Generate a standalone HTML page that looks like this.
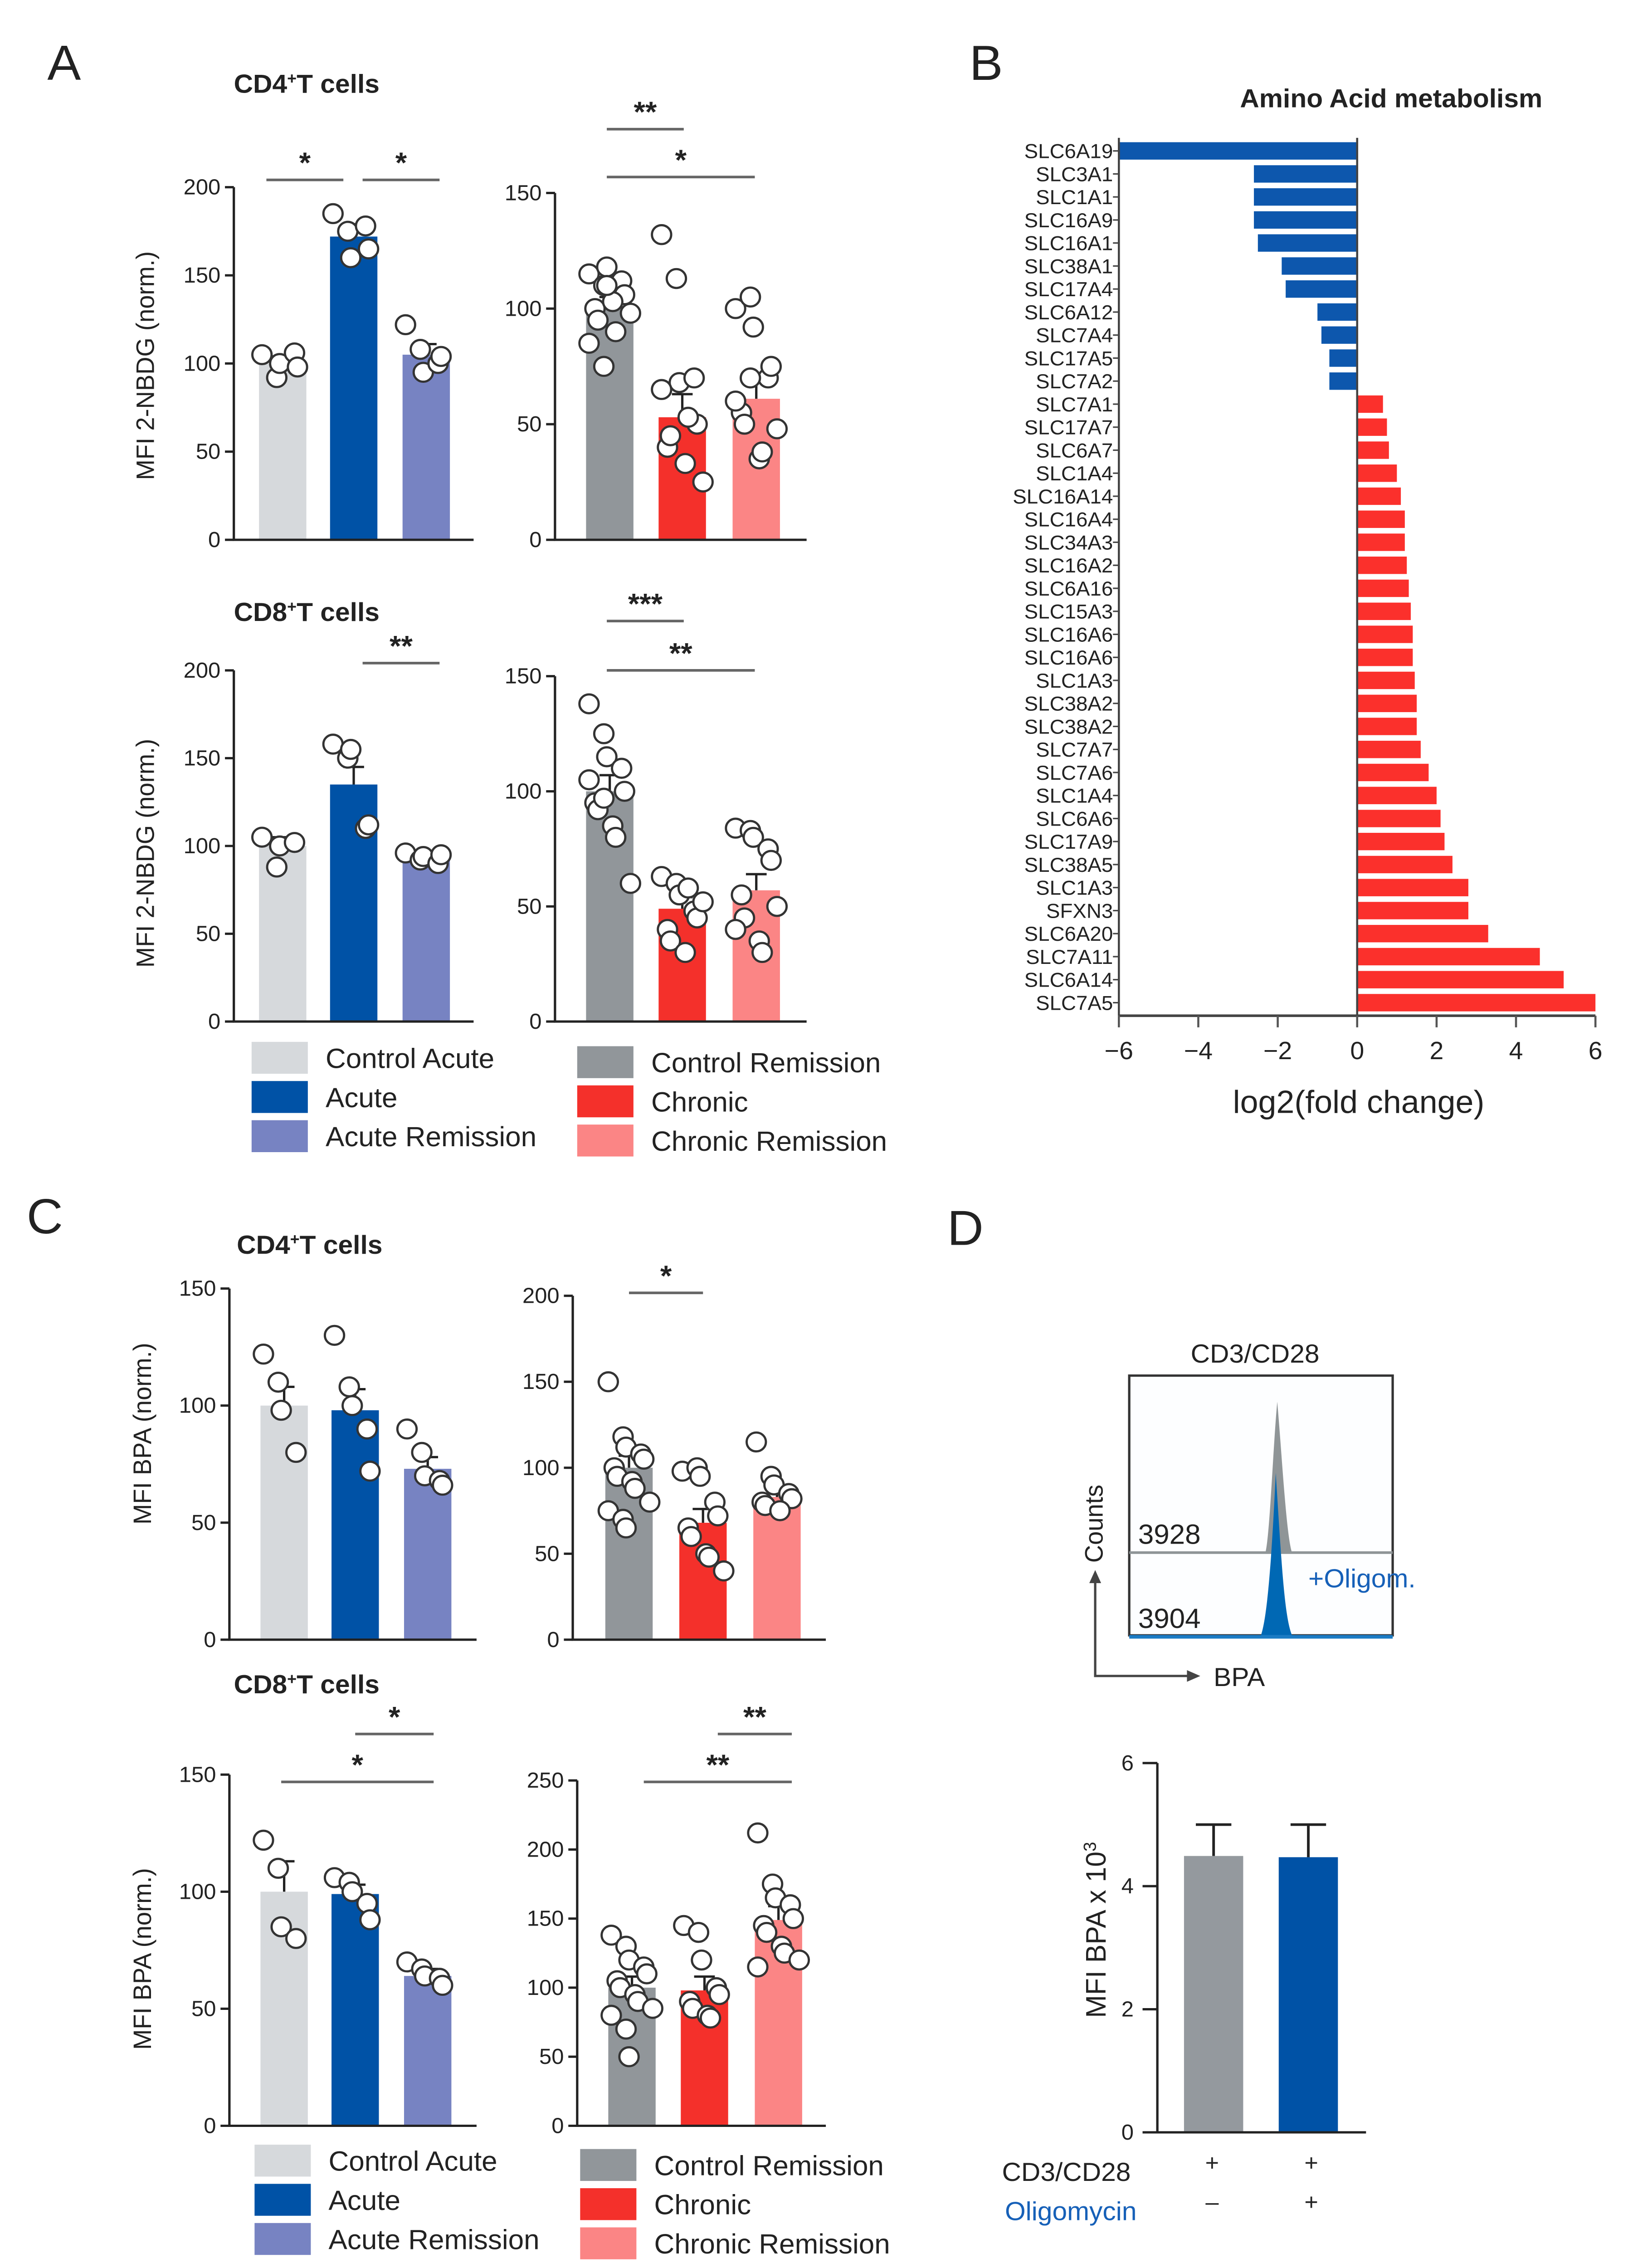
<!DOCTYPE html>
<html><head><meta charset="utf-8"><style>
html,body{margin:0;padding:0;background:#fff;overflow:hidden}
svg{display:block;position:fixed;left:0;top:0;width:100vw;height:100vh}
text{font-family:"Liberation Sans",Arial,sans-serif;fill:#222}
</style></head><body>
<svg id="fig" xmlns="http://www.w3.org/2000/svg" viewBox="0 0 1100 1563" preserveAspectRatio="none">
<rect width="1100" height="1563" fill="#fff"/>
<g id="root"></g>
</svg>
<script>
// ---------- DATA ----------
const groupsAcute = ["Control Acute","Acute","Acute Remission"];
const groupsChronic = ["Control Remission","Chronic","Chronic Remission"];
const a4AcuteMeans = [100,172,105];
const a4AcuteErr = [4,7,6];
const a4AcutePts = [[105,92,100,106,98],[185,175,160,178,165],[122,108,95,100,104]];
const a4ChronMeans = [100,53,61];
const a4ChronErr = [5,10,8];
const a4ChronPts = [[115,110,118,112,106,100,95,103,90,98,85,75,110],[132,113,68,70,50,40,45,33,53,25,65],[100,105,92,70,75,55,50,35,38,48,60,70]];
const a8AcuteMeans = [100,135,93];
const a8AcuteErr = [5,10,2];
const a8AcutePts = [[105,88,100,102],[158,150,155,110,112],[96,92,94,90,95]];
const a8ChronMeans = [100,49,57];
const a8ChronErr = [7,5,7];
const a8ChronPts = [[138,125,115,110,100,95,92,85,80,60,105,97],[63,60,55,48,45,40,35,30,58,52],[84,83,80,75,70,55,45,35,30,50,40]];
const c4AcuteMeans = [100,98,73];
const c4AcuteErr = [8,9,5];
const c4AcutePts = [[122,110,98,80],[130,108,100,90,72],[90,80,70,68,66]];
const c4ChronMeans = [100,68,83];
const c4ChronErr = [7,8,5];
const c4ChronPts = [[150,118,112,108,105,100,95,92,88,80,75,70,65],[98,100,95,80,72,65,60,50,48,40],[115,95,90,85,82,80,78,75]];
const c8AcuteMeans = [100,99,64];
const c8AcuteErr = [13,4,3];
const c8AcutePts = [[122,110,85,80],[106,104,100,95,88],[70,67,64,63,60]];
const c8ChronMeans = [100,98,149];
const c8ChronErr = [8,10,10];
const c8ChronPts = [[138,130,120,115,110,105,100,95,90,85,80,70,50],[145,140,120,100,95,90,85,80,78],[212,175,165,160,150,145,140,130,125,120,115]];
const slcGenes = ["SLC6A19","SLC3A1","SLC1A1","SLC16A9","SLC16A1","SLC38A1","SLC17A4","SLC6A12","SLC7A4","SLC17A5","SLC7A2","SLC7A1","SLC17A7","SLC6A7","SLC1A4","SLC16A14","SLC16A4","SLC34A3","SLC16A2","SLC6A16","SLC15A3","SLC16A6","SLC16A6","SLC1A3","SLC38A2","SLC38A2","SLC7A7","SLC7A6","SLC1A4","SLC6A6","SLC17A9","SLC38A5","SLC1A3","SFXN3","SLC6A20","SLC7A11","SLC6A14","SLC7A5"];
const slcFold = [-6,-2.6,-2.6,-2.6,-2.5,-1.9,-1.8,-1.0,-0.9,-0.7,-0.7,0.65,0.75,0.8,1.0,1.1,1.2,1.2,1.25,1.3,1.35,1.4,1.4,1.45,1.5,1.5,1.6,1.8,2.0,2.1,2.2,2.4,2.8,2.8,3.3,4.6,5.2,6.0];
const fcTicks = [-6,-4,-2,0,2,4,6];
const dLabels = ["CD3/CD28","Oligomycin"];
const dMeans = [4.49,4.47];
const dErr = [0.51,0.53];
const dTicks = [0,2,4,6];

const colsAcute = ["#d6d9dc","#0052a6","#7783c2"];
const colsChron = ["#91969a","#f4302b","#fb8585"];
const NS="http://www.w3.org/2000/svg";
const root=document.getElementById('root');
function el(tag,attrs,parent){const e=document.createElementNS(NS,tag);for(const k in attrs)e.setAttribute(k,attrs[k]);(parent||root).appendChild(e);return e;}
function txt(s,x,y,size,attrs,parent){const t=el('text',Object.assign({x:x,y:y,'font-size':size},attrs||{}),parent);t.textContent=s;return t;}

function barPanel(name,ax,y0,ytop,maxV,ticks,means,errs,pts,cols,centers,xEnd){
  const g=el('g',{});
  
  
  const ys=v=>y0-(v/maxV)*(y0-ytop);
  const bw=32;
  means.forEach((m,i)=>{
    const r=el('rect',{x:centers[i]-bw/2,y:ys(m),width:bw,height:y0-ys(m),fill:cols[i]},g);
    
    
    const e=el('path',{d:`M${centers[i]} ${ys(m)}V${ys(m+errs[i])}M${centers[i]-7} ${ys(m+errs[i])}H${centers[i]+7}`,stroke:'#222','stroke-width':1.6,fill:'none'},g);
    
    
    pts[i].forEach((v,j)=>{
      const off=((j%5)-2)*6+((j%2)?2:-2);
      const c=el('circle',{cx:centers[i]+off,cy:ys(v),r:6.5,fill:'#fff',stroke:'#333','stroke-width':1.5},g);
      
      
    });
  });
  const axis=el('path',{d:`M${ax} ${ytop}V${y0}H${xEnd}`,stroke:'#222','stroke-width':1.6,fill:'none'},g);
  
  
  ticks.forEach(t=>{
    el('line',{x1:ax-6,x2:ax,y1:ys(t),y2:ys(t),stroke:'#222','stroke-width':1.6},g);
    const l=txt(String(t),ax-9,ys(t)+5,15,{'text-anchor':'end'},g);
    
    
  });
}
function sig(x1,x2,y,s){
  el('line',{x1:x1,x2:x2,y1:y,y2:y,stroke:'#666','stroke-width':1.8});
  const t=txt(s,(x1+x2)/2,y-5,20,{'text-anchor':'middle','font-weight':'bold'});
  
  
}
function ylab(s,x,y){const t=txt(s,x,y,17,{'text-anchor':'middle',transform:`rotate(-90 ${x} ${y})`});}
function title(s,x,y){const t=el('text',{x:x,y:y,'font-size':18,'font-weight':'bold'});t.innerHTML=`CD${s}<tspan baseline-shift="super" font-size="11">+</tspan>T cells`;}
function letter(s,x,y){const t=txt(s,x,y,34);}
function legend(x0,y0,pitch){
  [[groupsAcute,colsAcute,x0],[groupsChronic,colsChron,x0+220]].forEach(([gs,cs,x],k)=>{
    gs.forEach((g,i)=>{
      const r=el('rect',{x:x,y:y0+i*pitch+(k?3:0),width:38,height:22,fill:cs[i]});
      
      
      const t=txt(g,x+50,y0+i*pitch+18+(k?3:0),19);
      
      
    });
  });
}

// ---------- Panel A ----------
letter('A',32,55);
title('4',158,64);
barPanel('a-cd4-acute',158,372,129,200,[0,50,100,150,200],a4AcuteMeans,a4AcuteErr,a4AcutePts,colsAcute,[191,239,288],320);
barPanel('a-cd4-chronic',375,372,133,150,[0,50,100,150],a4ChronMeans,a4ChronErr,a4ChronPts,colsChron,[412,461,511],545);
sig(180,232,124,'*');sig(245,297,124,'*');sig(410,462,89,'**');sig(410,510,122,'*');
ylab('MFI 2-NBDG (norm.)',104,252);
title('8',158,428);
barPanel('a-cd8-acute',158,704,462,200,[0,50,100,150,200],a8AcuteMeans,a8AcuteErr,a8AcutePts,colsAcute,[191,239,288],320);
barPanel('a-cd8-chronic',375,704,466,150,[0,50,100,150],a8ChronMeans,a8ChronErr,a8ChronPts,colsChron,[412,461,511],545);
sig(245,297,457,'**');sig(410,462,428,'***');sig(410,510,462,'**');
ylab('MFI 2-NBDG (norm.)',104,588);
legend(170,718,27);

// ---------- Panel C ----------
letter('C',18,850);
title('4',160,864);
barPanel('c-cd4-acute',155,1130,888,150,[0,50,100,150],c4AcuteMeans,c4AcuteErr,c4AcutePts,colsAcute,[192,240,289],322);
barPanel('c-cd4-chronic',387,1130,893,200,[0,50,100,150,200],c4ChronMeans,c4ChronErr,c4ChronPts,colsChron,[425,475,525],558);
sig(425,475,891,'*');
ylab('MFI BPA (norm.)',102,988);
title('8',158,1167);
barPanel('c-cd8-acute',155,1465,1223,150,[0,50,100,150],c8AcuteMeans,c8AcuteErr,c8AcutePts,colsAcute,[192,240,289],322);
barPanel('c-cd8-chronic',390,1465,1227,250,[0,50,100,150,200,250],c8ChronMeans,c8ChronErr,c8ChronPts,colsChron,[427,476,526],558);
sig(240,293,1195,'*');sig(190,293,1228,'*');sig(485,535,1195,'**');sig(435,535,1228,'**');
ylab('MFI BPA (norm.)',102,1350);
legend(172,1478,27);

// ---------- Panel B ----------
letter('B',655,55);
(function(){
  const g=el('g',{});
  
  
  const xs=v=>917+v*(161/6);
  const yTop=104,pitch=(691-104)/37,axY=700;
  const t=txt('Amino Acid metabolism',940,74,18,{'text-anchor':'middle','font-weight':'bold'},g);
  
  slcFold.forEach((v,i)=>{
    const y=yTop+i*pitch;
    const r=el('rect',{x:Math.min(xs(0),xs(v)),y:y-6,width:Math.abs(xs(v)-xs(0)),height:12,fill:v<0?'#0d57ad':'#fb302c'},g);
    
    
    el('line',{x1:xs(-6)-4,x2:xs(-6),y1:y,y2:y,stroke:'#444','stroke-width':1},g);
    const l=txt(slcGenes[i],752,y+5,14,{'text-anchor':'end'},g);
    
  });
  el('line',{x1:xs(-6),x2:xs(-6),y1:95,y2:axY,stroke:'#444','stroke-width':1.4},g);
  el('line',{x1:xs(0),x2:xs(0),y1:95,y2:axY,stroke:'#444','stroke-width':1.4},g);
  el('line',{x1:xs(-6),x2:xs(6),y1:axY,y2:axY,stroke:'#444','stroke-width':1.8},g);
  fcTicks.forEach(v=>{
    el('line',{x1:xs(v),x2:xs(v),y1:axY,y2:axY+8,stroke:'#555','stroke-width':1.4},g);
    const l=txt(v<0?'\u2212'+(-v):String(v),xs(v),730,17,{'text-anchor':'middle'},g);
    
  });
  const xt=txt('log2(fold change)',918,767,22,{'text-anchor':'middle'},g);
  
})();

// ---------- Panel D ----------
letter('D',640,858);
(function(){
  const g=el('g',{});
  
  
  txt('CD3/CD28',848,939,18,{'text-anchor':'middle'},g);
  el('rect',{x:763,y:948,width:178,height:179,fill:'#fdfeff',stroke:'#333','stroke-width':1.6},g);
  el('path',{d:'M763 1070H855C858 1058 860 1000 863 966C866 1000 869 1058 873 1070H941Z',fill:'#8f9597'},g);
  el('line',{x1:763,x2:941,y1:1070,y2:1070,stroke:'#8f9597','stroke-width':1.8},g);
  el('path',{d:'M763 1127H852C856 1115 859 1080 862 1015C866 1080 868 1115 873 1127H941Z',fill:'#0068b4'},g);
  el('line',{x1:763,x2:941,y1:1128,y2:1128,stroke:'#1b7bc4','stroke-width':2.5},g);
  txt('3928',769,1064,19,{},g);txt('3904',769,1122,19,{},g);
  const o=txt('+Oligom.',884,1094,18,{},g);o.style.fill='#1660b8';
  el('path',{d:'M740 1088V1155H805',fill:'none',stroke:'#444','stroke-width':1.6},g);
  el('path',{d:'M736 1091L740 1082L744 1091Z M802 1151L811 1155L802 1159Z',fill:'#444'},g);
  txt('Counts',745,1077,17,{transform:'rotate(-90 745 1077)'},g);
  txt('BPA',820,1162,18,{},g);
})();
(function(){
  const g=el('g',{});
  
  
  const y0=1469.5,ytop=1215,ax=782;
  const ys=v=>y0-(v/6)*(y0-ytop);
  const cx=[820,884],cols=['#94999e','#0052a6'];
  dMeans.forEach((m,i)=>{
    const r=el('rect',{x:cx[i]-20,y:ys(m),width:40,height:y0-ys(m),fill:cols[i]},g);
    
    
    el('path',{d:`M${cx[i]} ${ys(m)}V${ys(m+dErr[i])}M${cx[i]-12} ${ys(m+dErr[i])}H${cx[i]+12}`,stroke:'#222','stroke-width':1.8,fill:'none'},g);
  });
  el('path',{d:`M${ax} ${ytop}V${y0}H923`,stroke:'#222','stroke-width':1.6,fill:'none'},g);
  dTicks.forEach(t=>{
    el('line',{x1:ax-10,x2:ax,y1:ys(t),y2:ys(t),stroke:'#222','stroke-width':1.6},g);
    txt(String(t),766,ys(t)+5,15,{'text-anchor':'end'},g);
  });
  const yl=el('text',{x:747,y:1330,'font-size':19,'text-anchor':'middle',transform:'rotate(-90 747 1330)'},g);
  yl.innerHTML='MFI BPA x 10<tspan baseline-shift="super" font-size="12">3</tspan>';
  
  txt(dLabels[0],677,1503,18,{},g);
  const ol=txt(dLabels[1],679,1530,18,{},g);ol.style.fill='#1660b8';
  txt('+',819,1496,16,{'text-anchor':'middle'},g);txt('+',886,1496,16,{'text-anchor':'middle'},g);
  txt('\u2013',819,1523,16,{'text-anchor':'middle'},g);txt('+',886,1523,16,{'text-anchor':'middle'},g);
})();
</script>
</body></html>
